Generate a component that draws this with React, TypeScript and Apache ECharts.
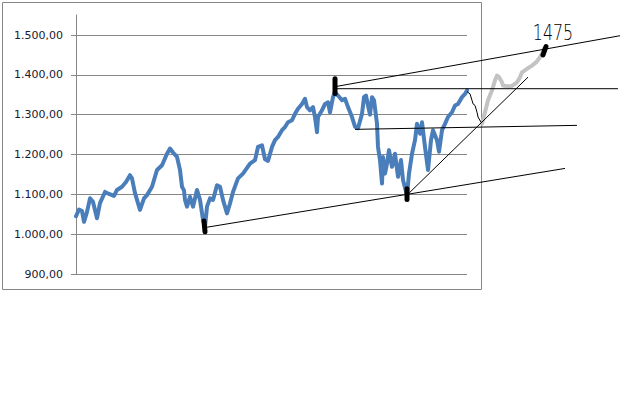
import React, { useEffect, useRef } from "react";
import * as echarts from "echarts";

// Blue index series: trading-day index and closing value
const blueDays = [
  0, 3, 6, 8, 11, 14, 17, 21, 24, 29, 33, 38, 41, 46, 50, 54, 56, 59, 64, 68, 71, 76, 81, 86, 91, 94, 97, 101,
  104, 106, 108, 109, 111, 114, 117, 121, 124, 127, 129, 131, 134, 137, 141, 144, 147, 151, 154, 157, 162, 167,
  174, 179, 182, 186, 189, 192, 196, 199, 202, 206, 209, 212, 216, 219, 222, 226, 229, 231, 234, 237, 239, 241,
  242, 246, 249, 252, 254, 257, 259, 262, 266, 269, 272, 276, 279, 282, 286, 288, 290, 292, 294, 296, 298, 301,
  302, 304, 306, 307, 309, 311, 313, 316, 319, 322, 325, 327, 331, 333, 336, 339, 341, 344, 346, 349, 352, 355,
  357, 361, 363, 366, 369, 372, 376, 379, 382, 386, 389, 391,
];
const blueValues = [
  1045, 1062, 1058, 1031, 1056, 1090, 1081, 1040, 1078, 1106, 1101, 1096, 1111, 1119, 1131, 1148, 1140, 1103,
  1061, 1090, 1098, 1119, 1161, 1173, 1202, 1215, 1205, 1194, 1161, 1119, 1110, 1086, 1069, 1094, 1069, 1111,
  1086, 1036, 1019, 1069, 1090, 1086, 1123, 1119, 1086, 1052, 1077, 1106, 1140, 1152, 1177, 1186, 1219, 1223,
  1188, 1184, 1219, 1236, 1244, 1261, 1269, 1281, 1286, 1302, 1315, 1327, 1340, 1319, 1311, 1319, 1294, 1256,
  1294, 1311, 1327, 1331, 1306, 1344, 1356, 1348, 1336, 1340, 1319, 1294, 1270, 1266, 1302, 1344, 1348, 1323,
  1300, 1344, 1336, 1277, 1219, 1186, 1127, 1194, 1152, 1177, 1211, 1169, 1202, 1144, 1186, 1136, 1098, 1152,
  1202, 1236, 1277, 1252, 1281, 1219, 1161, 1236, 1261, 1236, 1207, 1261, 1277, 1294, 1306, 1323, 1327, 1344,
  1352, 1361,
];

// Grey hand-drawn projection
const projDays = [406, 409, 412, 416, 419, 421, 423, 426, 427, 431, 436, 441, 444, 446, 451, 456, 460, 464, 467, 468];
const projValues = [1277, 1306, 1336, 1361, 1386, 1398, 1394, 1381, 1373, 1371, 1372, 1381, 1394, 1406, 1415, 1423, 1431, 1444, 1458, 1465];

// Thin black hand-drawn pullback
const pullDays = [391, 394, 396, 397, 399, 401, 402, 405];
const pullValues = [1358, 1352, 1336, 1327, 1323, 1306, 1294, 1281];

// Annotation trend lines: [day, value] end points
const trendLower = [[130, 1017], [489, 1165]];
const trendUpper = [[261, 1371], [544, 1498]];
const levelHigh = [[260, 1365], [542, 1365]];
const levelMid = [[279, 1263], [501, 1273]];
const trendSteep = [[331, 1098], [452, 1394]];

// Thick black pivot marks
const pivotA = [[128, 1033], [129, 1006]];
const pivotB = [[259, 1390], [259, 1353]];
const pivotC = [[331, 1114], [331, 1087]];
const pivotD = [[467, 1450], [470, 1471]];

// Target note
const targetLabel = "1475";
const targetPos = [477, 1507];

// Y axis ticks
const yTicks = [900, 1000, 1100, 1200, 1300, 1400, 1500];
const yMin = 900;
const yMaxMain = 1500;
const yMaxFrame = 1550;

function fmt(v: number): string {
  const [intPart, dec] = v.toFixed(2).split(".");
  const withSep = intPart.replace(/\B(?=(\d{3})+(?!\d))/g, ".");
  return withSep + "," + dec;
}

const zip = (a: number[], b: number[]) => a.map((d, i) => [d, b[i]]);

export default function App() {
  const ref = useRef<HTMLDivElement>(null);
  useEffect(() => {
    const chart = echarts.init(ref.current!, null, { renderer: "svg" });
    const thin = (data: number[][]) => ({
      type: "line",
      xAxisIndex: 1,
      yAxisIndex: 1,
      data,
      showSymbol: false,
      symbol: "none",
      lineStyle: { color: "#000", width: 1 },
      z: 5,
    });
    const pivot = (data: number[][]) => ({
      type: "line",
      xAxisIndex: 1,
      yAxisIndex: 1,
      data,
      symbol: "none",
      lineStyle: { color: "#000", width: 5, cap: "round" },
      z: 6,
    });
    chart.setOption({
      animation: false,
      backgroundColor: "#fff",
      graphic: [
        {
          id: "frame",
          type: "rect",
          shape: { x: 2.5, y: 2.5, width: 479, height: 287 },
          style: { fill: "none", stroke: "#868686", lineWidth: 1 },
          silent: true,
          z: 0,
        },
      ],
      grid: [
        { left: 75, right: 173, top: 35, bottom: 126 },
        { left: 75, right: 0, top: 15, bottom: 126 },
      ],
      xAxis: [
        { type: "value", gridIndex: 0, min: -1, max: 391, show: false },
        { type: "value", gridIndex: 1, min: -1, max: 564, show: false },
      ],
      yAxis: [
        {
          type: "value",
          gridIndex: 0,
          min: yMin,
          max: yMaxMain,
          interval: 100,
          axisLine: { show: false },
          axisTick: { show: true, length: 5, lineStyle: { color: "#868686" } },
          splitLine: { show: true, lineStyle: { color: "#868686", width: 1 } },
          axisLabel: {
            margin: 12,
            fontFamily: "DejaVu Sans",
            fontSize: 11,
            color: "#1a1a2e",
            formatter: (v: number) => (yTicks.includes(v) ? fmt(v) : ""),
          },
        },
        {
          type: "value",
          gridIndex: 1,
          min: yMin,
          max: yMaxFrame,
          axisLine: { show: true, lineStyle: { color: "#868686", width: 1 } },
          axisTick: { show: false },
          splitLine: { show: false },
          axisLabel: { show: false },
        },
      ],
      series: [
        {
          type: "line",
          xAxisIndex: 0,
          yAxisIndex: 0,
          data: zip(blueDays, blueValues),
          symbol: "none",
          lineStyle: { color: "#4A7EBB", width: 4, join: "round", cap: "round" },
          z: 3,
        },
        {
          type: "line",
          xAxisIndex: 1,
          yAxisIndex: 1,
          data: zip(projDays, projValues),
          symbol: "none",
          lineStyle: { color: "#C3C3C3", width: 4, join: "round", cap: "round" },
          z: 4,
        },
        thin(zip(pullDays, pullValues)),
        thin(trendLower),
        thin(trendUpper),
        thin(levelHigh),
        thin(levelMid),
        thin(trendSteep),
        pivot(pivotA),
        pivot(pivotB),
        pivot(pivotC),
        pivot(pivotD),
      ],
    });
    const p = chart.convertToPixel({ gridIndex: 1 }, targetPos) as number[];
    chart.setOption({
      graphic: [
        {
          id: "target",
          type: "text",
          x: p[0],
          y: p[1],
          scaleX: 0.72,
          originX: 0,
          originY: 0,
          style: {
            text: targetLabel,
            fontFamily: "DejaVu Sans",
            fontWeight: 200,
            fontSize: 22,
            fill: "#000",
            align: "center",
            verticalAlign: "middle",
          },
          z: 10,
        },
      ],
    });
    return () => chart.dispose();
  }, []);
  return (
    <div
      ref={ref}
      style={{ position: "fixed", left: 0, top: 0, width: 640, height: 400, background: "#fff" }}
    />
  );
}
